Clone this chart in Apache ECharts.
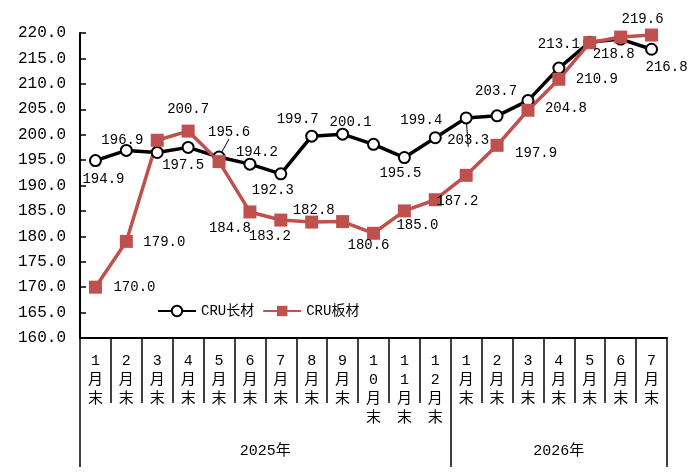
<!DOCTYPE html>
<html>
<head>
<meta charset="utf-8">
<script src="https://cdn.jsdelivr.net/npm/echarts@6/dist/echarts.min.js"></script>
<style>
  html, body { margin: 0; padding: 0; background: #fff; }
  #chart { width: 696px; height: 474px; }
</style>
</head>
<body>
<div id="chart"></div>
<script>
var categories = ['1\n月\n末', '2\n月\n末', '3\n月\n末', '4\n月\n末', '5\n月\n末', '6\n月\n末',
  '7\n月\n末', '8\n月\n末', '9\n月\n末', '1\n0\n月\n末', '1\n1\n月\n末', '1\n2\n月\n末',
  '1\n月\n末', '2\n月\n末', '3\n月\n末', '4\n月\n末', '5\n月\n末', '6\n月\n末', '7\n月\n末'];
var years = ['2025年', '2026年'];
var yearBounds = [0, 12, 19];
var yTicks = [160, 220, 5];

var longData = [194.9, 196.9, 196.5, 197.5, 195.6, 194.2, 192.3, 199.7, 200.1, 198.1,
  195.5, 199.4, 203.3, 203.7, 206.7, 213.1, 218.2, 218.8, 216.8];
var plateData = [170.0, 179.0, 198.9, 200.7, 194.7, 184.8, 183.2, 182.8, 182.9, 180.6,
  185.0, 187.2, 192.0, 197.9, 204.8, 210.9, 218.1, 219.2, 219.6];

// label placement (pixel offset from the point), null = no label
var longLabelPos = [[8, 19], [-4, -10], null, [-5, 18], [10, -25], [7, -12], [-8, 16],
  [-14, -17], [8, -12], null, [-4, 16], [-14, -17], [2, 22], [-1, -25], null,
  [0, -24], null, [-7, 15], [15, 18]];
var plateLabelPos = [[39, 0], [38, 1], null, [0, -22], null, [-20, 16], [-11, 16],
  [2, -12], null, [-5, 12], [13, 14], [22, 2], null, [39, 8], [38, -2], [38, 0],
  null, null, [-9, -16]];
var leaderLines = [4, 12];

var numFont = "'Liberation Mono', 'Noto Sans CJK SC', monospace";

function buildData(values, pos, withLeader) {
  return values.map(function(v, i) {
    var p = pos[i];
    var item = { value: v };
    if (p) {
      item.label = { show: true, offset: p };
      if (withLeader && leaderLines.indexOf(i) >= 0) {
        item.labelLine = { show: true, lineStyle: { color: '#000', width: 1 } };
      }
    } else {
      item.label = { show: false };
    }
    return item;
  });
}

var dom = document.getElementById('chart');
var myChart = echarts.init(dom);

var option = {
  animation: false,
  textStyle: { fontFamily: numFont },
  grid: { left: 80, right: 29, top: 33, bottom: 136, containLabel: false },
  legend: {
    left: 152,
    top: 299,
    itemWidth: 38,
    itemHeight: 13,
    itemGap: 8,
    textStyle: { fontSize: 14, color: '#000', fontFamily: numFont },
    data: ['CRU长材', 'CRU板材']
  },
  xAxis: [{
    type: 'category',
    data: categories,
    boundaryGap: true,
    axisLine: { lineStyle: { color: '#000', width: 2 } },
    axisTick: { show: true, interval: 0, length: 65, lineStyle: { color: '#000', width: 1.5 } },
    axisLabel: {
      interval: 0, margin: 14, fontSize: 15, lineHeight: 19, color: '#000',
      verticalAlign: 'top', fontFamily: numFont
    }
  }, {
    type: 'value',
    position: 'bottom',
    min: yearBounds[0],
    max: yearBounds[2],
    axisLine: { show: false },
    splitLine: { show: false },
    axisTick: {
      show: true, length: 129, customValues: yearBounds,
      lineStyle: { color: '#000', width: 1.5 }
    },
    axisLabel: {
      customValues: [6, 15.5],
      margin: 106,
      fontSize: 15,
      color: '#000',
      fontFamily: numFont,
      formatter: function(v) { return v < 12 ? years[0] : years[1]; }
    }
  }],
  yAxis: {
    type: 'value',
    min: yTicks[0],
    max: yTicks[1],
    interval: yTicks[2],
    axisLine: { show: true, lineStyle: { color: '#000', width: 2 } },
    axisTick: { show: true, inside: true, length: 6, lineStyle: { color: '#000', width: 1.5 } },
    splitLine: { show: false },
    axisLabel: {
      margin: 14, fontSize: 16, color: '#000', fontFamily: numFont,
      formatter: function(v) { return v.toFixed(1); }
    }
  },
  series: [{
    name: 'CRU长材',
    type: 'line',
    xAxisIndex: 0,
    data: buildData(longData, longLabelPos, true),
    symbol: 'circle',
    symbolSize: 11,
    lineStyle: { color: '#000', width: 3.5 },
    itemStyle: { color: '#fff', borderColor: '#000', borderWidth: 2 },
    label: {
      position: 'inside', fontSize: 14, color: '#000', fontFamily: numFont,
      formatter: function(p) { return p.value.toFixed(1); }
    }
  }, {
    name: 'CRU板材',
    type: 'line',
    xAxisIndex: 0,
    data: buildData(plateData, plateLabelPos, false),
    symbol: 'rect',
    symbolSize: 13,
    lineStyle: { color: '#C0504D', width: 3.5 },
    itemStyle: { color: '#C0504D', borderColor: '#C0504D', borderWidth: 0 },
    label: {
      position: 'inside', fontSize: 14, color: '#000', fontFamily: numFont,
      formatter: function(p) { return p.value.toFixed(1); }
    }
  }]
};

myChart.setOption(option);
</script>
</body>
</html>
